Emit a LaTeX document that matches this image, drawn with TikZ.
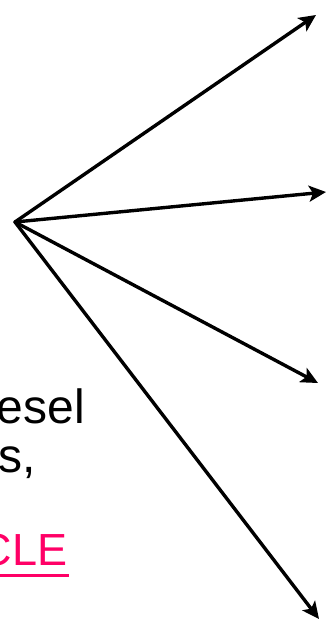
\documentclass[tikz,border=0pt]{standalone}
\usepackage{fontspec}
\setmainfont{Liberation Sans}
\usetikzlibrary{arrows.meta}
\definecolor{linkpink}{RGB}{255,0,102}
\begin{document}
\begin{tikzpicture}[x=1pt,y=-1pt,
  ray/.style={line width=3.4pt, line cap=round,
    -{Stealth[length=17pt,width=16pt,inset=4pt]}},
  words/.style={inner sep=0pt, anchor=base east, font=\fontsize{48}{48}\selectfont}]
  \useasboundingbox (0,0) rectangle (327,620);
  % fan of arrows from one point
  \coordinate (hub) at (15,222);
  \coordinate (t1) at (316,15);
  \coordinate (t2) at (326,192);
  \coordinate (t3) at (318,383);
  \coordinate (t4) at (319,619);
  \draw[ray] (hub) -- (t1);
  \draw[ray] (hub) -- (t2);
  \draw[ray] (hub) -- (t3);
  \draw[ray] (hub) -- (t4);
  % text running in from the left
  \node[words] (w1) at (85,423) {esel};
  \node[words] (w2) at (36,472) {s,};
  \node[words, text=linkpink, font=\fontsize{45}{45}\selectfont] (w3) at (67.5,565) {CLE};
  \draw[linkpink, line width=3pt]
    ([yshift=-10pt]w3.base west) -- ([xshift=1.5pt,yshift=-10pt]w3.base east);
\end{tikzpicture}
\end{document}
